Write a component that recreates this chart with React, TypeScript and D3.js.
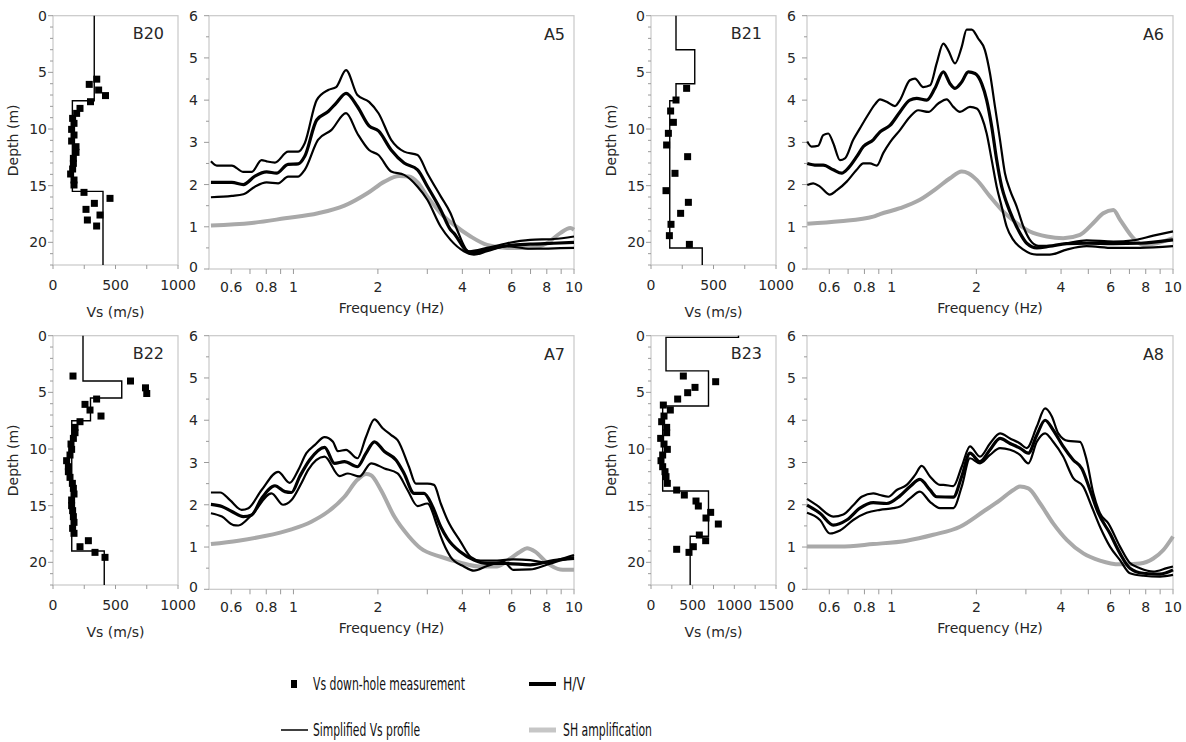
import React from 'react';
import * as d3 from 'd3';

type P = [number, number];
type Layer = [number, number, number];

// ---------- Vs panels (Vs m/s, depth m) ----------
const b20Points: P[] = [[350,5.6],[290,6.06],[365,6.56],[420,7.05],[300,7.59],[216,8.18],[189,8.62],[157,9.06],[168,9.5],[149,10.03],[168,10.53],[149,11.06],[184,11.56],[184,12.06],[163,12.59],[163,13.03],[157,13.53],[141,13.97],[168,14.5],[168,14.94],[248,15.59],[456,16.12],[331,16.56],[264,17.09],[376,17.59],[275,18.03],[349,18.56]];
const b20Profile: Layer[] = [[0,7.5,330],[7.5,15.5,155],[15.5,22,400]];

const b21Points: P[] = [[285,6.41],[200,7.44],[157,8.41],[179,9.41],[139,10.38],[125,11.41],[293,12.44],[192,13.91],[120,15.44],[299,16.47],[237,17.44],[160,18.41],[147,19.41],[307,20.18]];
const b21Profile: Layer[] = [[0,3,200],[3,6,350],[6,7.5,200],[7.5,20.5,150],[20.5,22,410]];

const b22Points: P[] = [[160,3.56],[620,4.0],[740,4.6],[750,5.1],[349,5.59],[256,6.06],[296,6.56],[384,7.09],[216,7.59],[176,8.09],[176,8.56],[163,9.06],[144,9.56],[149,10.03],[136,10.53],[109,11.03],[123,11.56],[123,12.0],[136,12.5],[155,13.03],[163,13.47],[168,13.97],[149,14.5],[149,15.0],[157,15.44],[163,15.97],[168,16.47],[157,17.0],[168,17.44],[283,18.09],[216,18.62],[336,19.12],[416,19.56]];
const b22Profile: Layer[] = [[0,4,240],[4,5.5,550],[5.5,7.5,300],[7.5,19,150],[19,22,410]];

const b23Points: P[] = [[388,3.56],[776,4.06],[528,4.56],[440,5.03],[320,5.59],[148,6.12],[232,6.56],[156,7.09],[128,7.59],[188,8.09],[188,8.56],[116,9.06],[156,9.56],[196,10.03],[140,10.53],[120,11.03],[140,11.56],[168,12.0],[180,12.44],[196,13.03],[308,13.62],[400,14.06],[540,14.59],[568,15.03],[716,15.59],[660,16.09],[808,16.62],[580,17.59],[656,18.09],[508,18.62],[308,18.85],[456,19.12]];
const b23Profile: Layer[] = [[0,0.15,1050],[0.15,3.1,180],[3.1,6.2,690],[6.2,13.7,140],[13.7,17.7,690],[17.7,22,470]];

// ---------- H/V panels (frequency Hz, amplitude) ----------
const a5Upper: P[] = [[0.508,2.55],[0.533,2.45],[0.603,2.45],[0.663,2.3],[0.71,2.3],[0.77,2.58],[0.802,2.55],[0.859,2.52],[0.957,2.78],[1.04,2.78],[1.097,2.98],[1.21,4.0],[1.33,4.24],[1.42,4.31],[1.54,4.71],[1.69,4.12],[1.86,3.96],[2.01,3.69],[2.23,3.06],[2.48,2.78],[2.77,2.7],[3.0,2.27],[3.35,1.72],[3.63,1.32],[3.83,0.93],[4.22,0.42],[4.9,0.5],[5.77,0.61],[6.98,0.69],[8.45,0.71],[10,0.77]];
const a5Mean: P[] = [[0.508,2.05],[0.541,2.05],[0.603,2.05],[0.663,2.0],[0.729,2.2],[0.802,2.3],[0.87,2.27],[0.957,2.48],[1.04,2.49],[1.097,2.67],[1.21,3.53],[1.33,3.73],[1.42,3.93],[1.54,4.16],[1.69,3.85],[1.86,3.39],[2.01,3.27],[2.23,2.82],[2.48,2.51],[2.77,2.35],[3.0,1.96],[3.35,1.4],[3.63,0.93],[3.73,0.85],[4.16,0.42],[4.4,0.38],[4.9,0.46],[5.77,0.55],[6.98,0.59],[8.45,0.61],[10,0.63]];
const a5Lower: P[] = [[0.508,1.7],[0.603,1.73],[0.663,1.77],[0.729,1.95],[0.802,2.05],[0.882,2.03],[0.957,2.19],[1.04,2.19],[1.097,2.35],[1.223,3.06],[1.364,3.29],[1.54,3.69],[1.69,3.21],[1.86,2.82],[2.01,2.7],[2.23,2.31],[2.48,2.23],[2.77,1.95],[3.0,1.64],[3.35,1.0],[3.63,0.69],[4.05,0.42],[4.4,0.34],[4.9,0.42],[5.77,0.54],[6.98,0.48],[10,0.5]];
const a5SH: P[] = [[0.508,1.03],[0.71,1.09],[0.932,1.2],[1.223,1.32],[1.52,1.5],[1.84,1.8],[2.11,2.07],[2.38,2.2],[2.58,2.19],[2.77,2.05],[3.0,1.72],[3.35,1.32],[3.73,1.05],[4.28,0.77],[4.9,0.57],[5.77,0.5],[6.98,0.5],[8.0,0.61],[8.93,0.85],[9.7,0.97],[10,0.93]];

const a6Upper: P[] = [[0.501,3.02],[0.519,2.9],[0.548,2.92],[0.571,3.17],[0.595,3.21],[0.62,2.98],[0.655,2.58],[0.682,2.62],[0.73,3.06],[0.771,3.33],[0.815,3.6],[0.872,3.9],[0.909,4.02],[0.96,3.96],[1.027,3.86],[1.07,4.0],[1.16,4.47],[1.21,4.51],[1.295,4.31],[1.37,4.35],[1.445,4.87],[1.526,5.34],[1.589,5.18],[1.679,4.87],[1.774,5.26],[1.847,5.67],[1.925,5.67],[2.03,5.46],[2.146,5.18],[2.236,4.63],[2.33,3.84],[2.427,3.06],[2.527,2.27],[2.634,1.87],[2.782,1.48],[2.94,1.0],[3.1,0.69],[3.32,0.55],[3.65,0.55],[4.19,0.61],[4.93,0.68],[6.14,0.65],[7.23,0.68],[8.51,0.79],[10,0.89]];
const a6Mean: P[] = [[0.501,2.5],[0.541,2.46],[0.571,2.46],[0.62,2.35],[0.664,2.27],[0.701,2.39],[0.751,2.66],[0.793,2.9],[0.86,3.06],[0.909,3.25],[0.986,3.4],[1.07,3.72],[1.16,4.0],[1.227,4.04],[1.332,4.0],[1.425,4.28],[1.526,4.67],[1.612,4.39],[1.679,4.28],[1.774,4.43],[1.872,4.67],[1.978,4.63],[2.089,4.39],[2.176,4.0],[2.268,3.37],[2.362,2.58],[2.46,1.95],[2.564,1.56],[2.706,1.17],[2.858,0.85],[3.02,0.61],[3.28,0.5],[3.65,0.54],[4.19,0.6],[4.93,0.61],[6.14,0.6],[7.63,0.61],[10,0.69]];
const a6Lower: P[] = [[0.501,1.99],[0.526,2.03],[0.556,1.95],[0.603,1.76],[0.637,1.86],[0.692,2.07],[0.751,2.35],[0.793,2.5],[0.837,2.5],[0.885,2.45],[0.934,2.75],[0.986,3.0],[1.07,3.29],[1.16,3.6],[1.243,3.76],[1.35,3.72],[1.464,3.92],[1.569,4.02],[1.656,3.84],[1.749,3.72],[1.898,3.84],[2.006,3.8],[2.089,3.6],[2.176,3.21],[2.268,2.58],[2.362,1.95],[2.46,1.48],[2.564,1.0],[2.706,0.69],[2.94,0.46],[3.28,0.34],[3.65,0.34],[4.19,0.46],[4.93,0.54],[6.14,0.5],[7.63,0.5],[10,0.54]];
const a6SH: P[] = [[0.501,1.07],[0.655,1.13],[0.86,1.24],[0.909,1.3],[1.07,1.44],[1.26,1.64],[1.445,1.91],[1.612,2.15],[1.774,2.31],[1.872,2.27],[2.006,2.11],[2.236,1.72],[2.493,1.36],[2.782,1.09],[3.1,0.89],[3.56,0.77],[4.07,0.73],[4.67,0.81],[5.21,1.09],[5.65,1.32],[6.14,1.4],[6.48,1.17],[7.23,0.73],[7.84,0.57],[8.75,0.61],[10,0.73]];

const a7Upper: P[] = [[0.508,2.29],[0.548,2.29],[0.594,2.11],[0.654,1.88],[0.691,1.92],[0.77,2.35],[0.882,2.78],[0.97,2.52],[1.04,2.82],[1.112,3.22],[1.19,3.41],[1.291,3.6],[1.383,3.49],[1.44,3.27],[1.54,3.3],[1.69,3.1],[1.815,3.61],[1.943,4.02],[2.08,3.81],[2.23,3.65],[2.351,3.53],[2.58,2.9],[2.73,2.5],[3.0,2.5],[3.17,2.47],[3.35,2.03],[3.54,1.64],[3.94,1.13],[4.28,0.77],[4.64,0.68],[5.32,0.68],[6.09,0.71],[6.98,0.69],[8.0,0.63],[8.93,0.71],[10,0.81]];
const a7Mean: P[] = [[0.508,2.01],[0.556,1.96],[0.603,1.84],[0.663,1.72],[0.71,1.76],[0.77,2.15],[0.859,2.45],[0.932,2.31],[0.984,2.29],[1.053,2.67],[1.142,3.06],[1.291,3.36],[1.401,2.98],[1.52,3.02],[1.69,2.9],[1.815,3.22],[1.943,3.49],[2.11,3.26],[2.32,3.06],[2.48,2.74],[2.69,2.27],[2.92,2.27],[3.13,1.96],[3.35,1.48],[3.54,1.2],[3.94,0.88],[4.4,0.69],[4.9,0.61],[5.77,0.61],[6.98,0.58],[8.45,0.68],[10,0.73]];
const a7Lower: P[] = [[0.508,1.8],[0.556,1.72],[0.611,1.52],[0.636,1.51],[0.71,1.76],[0.835,2.27],[0.919,2.0],[0.984,2.11],[1.067,2.51],[1.127,2.82],[1.291,3.14],[1.46,2.68],[1.563,2.74],[1.719,2.67],[1.891,2.98],[2.11,2.86],[2.351,2.74],[2.55,2.35],[2.77,1.97],[3.0,2.03],[3.26,1.48],[3.35,1.25],[3.63,0.77],[4.05,0.54],[4.4,0.44],[4.9,0.55],[5.6,0.65],[6.09,0.46],[6.98,0.47],[8.0,0.58],[8.93,0.68],[10,0.76]];
const a7SH: P[] = [[0.508,1.07],[0.636,1.15],[0.791,1.26],[0.984,1.42],[1.158,1.6],[1.33,1.84],[1.52,2.19],[1.69,2.59],[1.815,2.73],[1.891,2.7],[2.05,2.35],[2.288,1.72],[2.58,1.25],[2.84,0.97],[3.35,0.77],[3.94,0.63],[4.64,0.54],[5.32,0.54],[5.93,0.73],[6.43,0.89],[6.8,0.97],[7.27,0.89],[8.0,0.63],[8.93,0.47],[10,0.46]];

const a8Upper: P[] = [[0.5,2.14],[0.541,1.99],[0.62,1.72],[0.673,1.77],[0.73,1.99],[0.782,2.19],[0.86,2.27],[0.909,2.23],[0.973,2.19],[1.042,2.35],[1.131,2.47],[1.21,2.7],[1.278,2.92],[1.368,2.67],[1.485,2.47],[1.526,2.47],[1.656,2.44],[1.774,2.9],[1.898,3.38],[2.06,3.14],[2.236,3.45],[2.427,3.69],[2.634,3.57],[2.858,3.45],[3.02,3.34],[3.28,3.85],[3.51,4.28],[3.71,4.09],[3.91,3.69],[4.24,3.51],[4.67,3.49],[4.93,3.06],[5.21,2.27],[5.5,1.8],[5.89,1.56],[6.48,1.01],[7.03,0.62],[7.63,0.5],[8.51,0.42],[9.5,0.5],[10,0.54]];
const a8Mean: P[] = [[0.5,1.99],[0.556,1.8],[0.62,1.52],[0.692,1.64],[0.771,1.92],[0.86,2.05],[0.96,2.03],[1.07,2.21],[1.162,2.43],[1.26,2.6],[1.368,2.35],[1.445,2.19],[1.656,2.18],[1.774,2.67],[1.898,3.22],[2.06,3.02],[2.236,3.3],[2.427,3.57],[2.634,3.45],[2.858,3.34],[3.06,3.22],[3.28,3.65],[3.51,4.0],[3.75,3.77],[4.07,3.38],[4.42,3.06],[4.74,2.86],[5.07,2.35],[5.43,1.8],[5.97,1.32],[6.48,0.85],[7.03,0.5],[7.84,0.38],[8.99,0.36],[10,0.46]];
const a8Lower: P[] = [[0.5,1.81],[0.556,1.64],[0.603,1.32],[0.655,1.39],[0.73,1.64],[0.815,1.81],[0.909,1.88],[1.013,1.92],[1.07,1.96],[1.162,2.15],[1.26,2.31],[1.368,2.07],[1.485,1.92],[1.656,1.92],[1.774,2.43],[1.898,3.1],[2.06,2.98],[2.236,3.18],[2.427,3.34],[2.634,3.3],[2.858,3.18],[3.06,2.98],[3.28,3.49],[3.51,3.69],[3.75,3.49],[4.07,3.14],[4.42,2.63],[4.8,2.43],[5.14,1.96],[5.5,1.48],[5.97,1.01],[6.48,0.69],[7.03,0.38],[7.84,0.32],[8.99,0.3],[10,0.34]];
const a8SH: P[] = [[0.5,1.01],[0.655,1.01],[0.86,1.07],[1.131,1.15],[1.406,1.29],[1.75,1.48],[2.117,1.84],[2.427,2.11],[2.706,2.35],[2.858,2.43],[3.06,2.39],[3.37,2.03],[3.75,1.56],[4.19,1.17],[4.8,0.85],[5.5,0.68],[6.48,0.59],[7.63,0.61],[8.51,0.73],[9.24,0.93],[10,1.25]];

// ---------- axis ticks / labels ----------
const freqTicks = [0.6,0.7,0.8,0.9,1,2,3,4,5,6,7,8,9,10];
const freqLabels = [0.6,0.8,1,2,4,6,8,10];
const ampLabels = [0,1,2,3,4,5,6];
const ampMinor = [0.5,1.5,2.5,3.5,4.5,5.5];
const depthLabels = [0,5,10,15,20];
const legendLabels = ['Vs down-hole measurement','H/V','Simplified Vs profile','SH amplification'];

const FONT = '"DejaVu Sans", Verdana, sans-serif';
const NARROW = '"DejaVu Sans Condensed", "DejaVu Sans", sans-serif';
const TEXT = '#262626';
const FRAME = '#c8c8c8';
const TICK = '#9a9a9a';
const GRAY = '#a9a9a9';

interface VsProps { x0: number; x1: number; y0: number; y1: number; vsMax: number; label: string; points: P[]; profile: Layer[]; }

function VsPanel({ x0, x1, y0, y1, vsMax, label, points, profile }: VsProps) {
  const xs = d3.scaleLinear().domain([0, vsMax]).range([x0, x1]);
  const ys = d3.scaleLinear().domain([0, 22]).range([y0, y1]);
  const prof: P[] = [];
  profile.forEach(([t, b, v]) => { prof.push([v, t]); prof.push([v, b]); });
  const line = d3.line<P>().x(d => xs(d[0])).y(d => ys(d[1]));
  const minorY = d3.range(0, 23, 1);
  const xt = d3.range(0, vsMax + 1, 250);
  const xl = d3.range(0, vsMax + 1, 500);
  return (
    <g>
      <rect x={x0} y={y0} width={x1 - x0} height={y1 - y0} fill="none" stroke={FRAME} strokeWidth={1.2} />
      {minorY.map(d => (
        <line key={'my' + d} x1={x0 - (d % 5 === 0 ? 5 : 3)} x2={x0} y1={ys(d)} y2={ys(d)} stroke={TICK} strokeWidth={1} />
      ))}
      {depthLabels.map(d => (
        <text key={'ly' + d} x={x0 - 6} y={ys(d) + 5} textAnchor="end" fontSize={14} fill={TEXT} fontFamily={FONT}>{d}</text>
      ))}
      {xt.map(d => (
        <line key={'mx' + d} x1={xs(d)} x2={xs(d)} y1={y1} y2={y1 + 4} stroke={TICK} strokeWidth={1} />
      ))}
      {xl.map(d => (
        <text key={'lx' + d} x={xs(d)} y={y1 + 25} textAnchor="middle" fontSize={14} fill={TEXT} fontFamily={FONT}>{d}</text>
      ))}
      <text x={(x0 + x1) / 2} y={y1 + 52} textAnchor="middle" fontSize={14} fill={TEXT} fontFamily={FONT}>Vs (m/s)</text>
      <text transform={`translate(${x0 - 35},${(y0 + y1) / 2}) rotate(-90)`} textAnchor="middle" fontSize={14} fill={TEXT} fontFamily={FONT}>Depth (m)</text>
      <text x={x1 - 14} y={y0 + 23} textAnchor="end" fontSize={16} fill={TEXT} fontFamily={FONT}>{label}</text>
      <path d={line(prof) || ''} fill="none" stroke="#000" strokeWidth={1.4} />
      {points.map((p, i) => (
        <rect key={'pt' + i} x={xs(p[0]) - 3.5} y={ys(p[1]) - 3.5} width={7} height={7} fill="#000" />
      ))}
    </g>
  );
}

interface HvProps { x0: number; x1: number; y0: number; y1: number; label: string; upper: P[]; mean: P[]; lower: P[]; sh: P[]; }

function HvPanel({ x0, x1, y0, y1, label, upper, mean, lower, sh }: HvProps) {
  const xs = d3.scaleLog().domain([0.5, 10]).range([x0, x1]);
  const ys = d3.scaleLinear().domain([0, 6]).range([y1, y0]);
  const line = d3.line<P>().x(d => xs(d[0])).y(d => ys(d[1])).curve(d3.curveMonotoneX);
  return (
    <g>
      <rect x={x0} y={y0} width={x1 - x0} height={y1 - y0} fill="none" stroke={FRAME} strokeWidth={1.2} />
      {ampLabels.map(d => (
        <line key={'ay' + d} x1={x0 - 5} x2={x0} y1={ys(d)} y2={ys(d)} stroke={TICK} strokeWidth={1} />
      ))}
      {ampMinor.map(d => (
        <line key={'my' + d} x1={x0 - 3} x2={x0} y1={ys(d)} y2={ys(d)} stroke={TICK} strokeWidth={1} />
      ))}
      {ampLabels.map(d => (
        <text key={'ly' + d} x={x0 - 11} y={ys(d) + (d === 0 ? 3 : 5)} textAnchor="end" fontSize={14} fill={TEXT} fontFamily={FONT}>{d}</text>
      ))}
      {freqTicks.map(d => (
        <line key={'fx' + d} x1={xs(d)} x2={xs(d)} y1={y1} y2={y1 + 5} stroke={TICK} strokeWidth={1} />
      ))}
      {freqLabels.map(d => (
        <text key={'lx' + d} x={xs(d)} y={y1 + 23} textAnchor="middle" fontSize={14} fill={TEXT} fontFamily={FONT}>{d}</text>
      ))}
      <text x={(x0 + x1) / 2} y={y1 + 44} textAnchor="middle" fontSize={14} fill={TEXT} fontFamily={FONT}>Frequency (Hz)</text>
      <text x={x1 - 9} y={y0 + 24} textAnchor="end" fontSize={16} fill={TEXT} fontFamily={FONT}>{label}</text>
      <path d={line(sh) || ''} fill="none" stroke={GRAY} strokeWidth={4} />
      <path d={line(upper) || ''} fill="none" stroke="#000" strokeWidth={2.2} strokeLinejoin="round" />
      <path d={line(lower) || ''} fill="none" stroke="#000" strokeWidth={2.2} strokeLinejoin="round" />
      <path d={line(mean) || ''} fill="none" stroke="#000" strokeWidth={3.2} strokeLinejoin="round" />
    </g>
  );
}

export default function App() {
  return (
    <svg width={1186} height={742} style={{ position: 'absolute', left: 0, top: 0, background: '#fff' }}>
      <rect x={0} y={0} width={1186} height={742} fill="#fff" />
      <VsPanel x0={53} x1={178} y0={15.7} y1={265} vsMax={1000} label="B20" points={b20Points} profile={b20Profile} />
      <HvPanel x0={209} x1={574} y0={15.7} y1={269} label="A5" upper={a5Upper} mean={a5Mean} lower={a5Lower} sh={a5SH} />
      <VsPanel x0={651} x1={776} y0={15.7} y1={265} vsMax={1000} label="B21" points={b21Points} profile={b21Profile} />
      <HvPanel x0={807} x1={1173} y0={15.7} y1={269} label="A6" upper={a6Upper} mean={a6Mean} lower={a6Lower} sh={a6SH} />
      <VsPanel x0={53} x1={178} y0={335.7} y1={585} vsMax={1000} label="B22" points={b22Points} profile={b22Profile} />
      <HvPanel x0={209} x1={574} y0={335.7} y1={589.3} label="A7" upper={a7Upper} mean={a7Mean} lower={a7Lower} sh={a7SH} />
      <VsPanel x0={651} x1={776} y0={335.7} y1={585} vsMax={1500} label="B23" points={b23Points} profile={b23Profile} />
      <HvPanel x0={807} x1={1173} y0={335.7} y1={589.3} label="A8" upper={a8Upper} mean={a8Mean} lower={a8Lower} sh={a8SH} />

      {/* legend */}
      <rect x={291} y={680} width={6} height={8} fill="#000" />
      <text x={313} y={690} fontSize={17.5} textLength={152} lengthAdjust="spacingAndGlyphs" fill="#111" fontFamily={NARROW}>{legendLabels[0]}</text>
      <line x1={529} x2={556} y1={684} y2={684} stroke="#000" strokeWidth={4} />
      <text x={563} y={690} fontSize={17.5} textLength={22} lengthAdjust="spacingAndGlyphs" fill="#111" fontFamily={NARROW}>{legendLabels[1]}</text>
      <line x1={281} x2={308} y1={730} y2={730} stroke="#000" strokeWidth={1.5} />
      <text x={313} y={736} fontSize={17.5} textLength={107} lengthAdjust="spacingAndGlyphs" fill="#111" fontFamily={NARROW}>{legendLabels[2]}</text>
      <line x1={529} x2={556} y1={730} y2={730} stroke="#c6c6c6" strokeWidth={5} />
      <text x={563} y={736} fontSize={17.5} textLength={89} lengthAdjust="spacingAndGlyphs" fill="#111" fontFamily={NARROW}>{legendLabels[3]}</text>
    </svg>
  );
}
